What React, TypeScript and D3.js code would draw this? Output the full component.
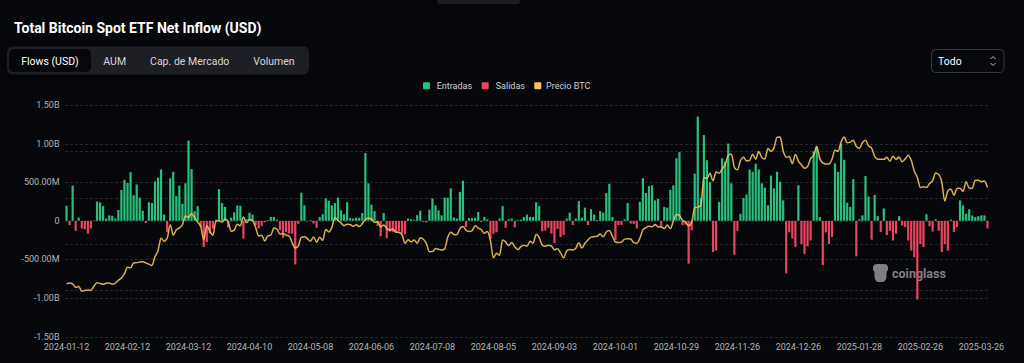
import React, { useEffect, useRef } from 'react';
import * as d3 from 'd3';

// Trading days covered by the chart (US market calendar)
const startDate = '2024-01-12';
const endDate = '2025-03-28';
const marketHolidays = [
  '2024-01-15', '2024-02-19', '2024-03-29', '2024-05-27', '2024-06-19', '2024-07-04',
  '2024-09-02', '2024-11-28', '2024-12-25', '2025-01-01', '2025-01-09', '2025-01-20', '2025-02-17',
];

const tickDates = [
  '2024-01-12', '2024-02-12', '2024-03-12', '2024-04-10', '2024-05-08', '2024-06-06',
  '2024-07-08', '2024-08-05', '2024-09-03', '2024-10-01', '2024-10-29', '2024-11-26',
  '2024-12-26', '2025-01-28', '2025-02-26', '2025-03-26',
];

// Daily net flows, millions USD
const flows2024 = [
  195, -55, 455, -130, 40, -100, -110, -165, -100, 5, 250, 240, 190,
  30, 70, 65, 30, 140, 400, 530, 490, 630, 330, 470, 300, 130, -30, 240, 230, 510, 560, 665, 80,
  -145, 550, 635, 320, 455, 220, 485, 1040, 670, 125, 190, -80, -340, -275, -165, -100, 15, 410, 230, 180,
  -85, 40, 110, 200, 195, -230, 20, 105, 80, -55, -100, -70, -20, 10, 50, 50, 15, -120, -220, -145, -165, -165,
  -565, -40, 365, 200, -10, 10, -35, -90, 50, 85, 290, 260, 200, 230, 300, 135, 85, 240, 35, 30, 40, 40,
  100, 880, 485, 210, 125, -65, -200, 100, -226, -140, -145, -152, -140, -165, -175, 31, 21, 11, 73,
  129, -13, -20, 143, 290, 200, 135, 70, 300, 300, 420, 45, 30, 375, 520, -80, 35, 35, 40, 115, -18, 50,
  20, -237, -168, -148, 30, 190, -90, 20, 30, -85, 10, 15, 50, 80, 50, 50, 240, 190, -135, -125, -90, -165,
  -290, -105, -210, -185, 28, 105, -55, 30, 255, 40, 170, -55, 150, 80, 10, 125, 105, 360, 480, 50,
  -250, -55, -55, 20, 230, -35, -40, -100, 245, 550, 360, 450, 460, 265, 285, -80, 180, 170, 400, 460, 810, 890, -55,
  -50, -555, -125, 610, 1350, 294, 1110, 785, 505, -405, -385, 245, 810, 765, 1000, 485, -440, -130, 90, 295,
  340, 665, 635, 740, 665, 485, 430, 200, 585, 420, 635, 505, 265, -680, -150, -230, -340, 460, -300, -430, -330,
];
const flows2025 = [
  -255, 900, 960, 50, -575, -150, -300, -210, 745, 635, 1000, 790, 235, 180, 540, -460, 20, 70, 580, 315,
  -245, 335, 60, -145, 160, -185, -130, -255, -165, 60, -60, -80, -255, -385, -470, -1020, -300, -340, 85,
  -70, -140, 20, -130, -405, -300, -385, 15, -145, -80, 265, 200, 90, 150, 70, 50, 60, 70, 70, -100,
];

// BTC daily close, USD
const price2024 = [
  42850, 43150, 42740, 41260, 41620, 39570, 39900, 40080, 39930, 41820, 43300, 42950, 42580,
  43080, 43190, 42650, 43090, 44340, 45300, 47150, 49960, 49700, 51810, 51940, 52160, 52270, 51840, 51300, 50730, 54520, 57090, 62500, 61200,
  62440, 68330, 63800, 66100, 66930, 68300, 72120, 71480, 73080, 71400, 69400, 67600, 61900, 67910, 65490, 63780, 69960, 69990, 69460, 70780,
  69650, 65450, 65970, 68500, 67830, 71630, 69140, 70590, 70060, 67190, 63420, 63810, 61280, 63510, 63840, 66840, 66410, 64280, 64500, 63770, 63420, 60610,
  58250, 59120, 62890, 63160, 62330, 61190, 63050, 60790, 62940, 61580, 66270, 65230, 67050, 71450, 70140, 69120, 67930, 68540, 68360, 67630, 68350, 67490,
  68800, 70570, 71080, 70760, 69340, 69650, 67310, 68240, 66760, 66010, 66490, 65140, 64960, 64100, 60280, 61810, 60870, 61670, 60320,
  62670, 62030, 60200, 56660, 56700, 58050, 57720, 57340, 57900, 62850, 65100, 64120, 63970, 66710, 67570, 65930, 65370, 65780, 67910, 66810, 66190, 64620,
  65350, 61420, 54020, 56030, 55130, 61710, 60880, 59350, 60610, 58740, 57560, 58870, 59490, 59010, 61160, 60380, 64090, 62880, 59500, 59030, 59390, 59120,
  57480, 57970, 56160, 53950, 57020, 57650, 57340, 58130, 60570, 58210, 60310, 61760, 62950, 63200, 63330, 64300, 63140, 65180, 65790, 63330,
  60840, 60630, 60750, 62090, 62230, 62130, 60580, 60270, 62450, 66050, 67040, 67610, 67400, 68420, 67370, 67360, 66680, 68160, 66640, 69910, 72720, 72340, 70210,
  69480, 67810, 69360, 75640, 75900, 76540, 88700, 88260, 90480, 87250, 91070, 90540, 92300, 94290, 98320, 98890, 93100, 91990, 95960, 97460,
  95860, 96000, 98770, 96590, 99920, 97320, 96670, 101170, 100040, 101460, 106060, 106140, 100200, 97460, 97760, 94690, 98680, 95800, 94160, 92640, 93430,
];
const price2025 = [
  96890, 98110, 102080, 96950, 95040, 94550, 94520, 96530, 100500, 99990, 104080, 106150, 103650, 103960, 104820, 102080, 101330, 103730, 104740, 102400,
  101400, 97870, 96620, 96550, 96530, 97400, 95750, 97870, 96620, 97510, 95540, 96630, 98330, 96130, 91420, 88740, 84350, 84700, 84370,
  86070, 87220, 90620, 89960, 86740, 78530, 82860, 83720, 81070, 83970, 84090, 82720, 86850, 84170, 84040, 87500, 87470, 86900, 87180, 84350,
];

const flowTicks = [1500, 1000, 500, 0, -500, -1000, -1500];
const priceTicks = [20000, 40000, 60000, 80000, 100000, 120000];
const tabs = ['Flows (USD)', 'AUM', 'Cap. de Mercado', 'Volumen'];
const legendLabels = ['Entradas', 'Salidas', 'Precio BTC'];

const BG = '#06070a';
const GREEN = '#29c07d';
const RED = '#ea4560';
const GOLD = '#f2c25c';
const FONT = "Roboto, 'Noto Sans', sans-serif";

const fmtFlow = (v: number) => {
  if (v === 0) return '0';
  if (Math.abs(v) >= 1000) return `${(v / 1000).toFixed(2)}B`;
  return `${v.toFixed(2)}M`;
};

const App: React.FC = () => {
  const svgRef = useRef<SVGSVGElement>(null);

  useEffect(() => {
    if (!svgRef.current) return;
    document.body.style.margin = '0';
    document.body.style.background = BG;

    const fmt = d3.utcFormat('%Y-%m-%d');
    const parse = d3.utcParse('%Y-%m-%d');
    const dates = d3.utcDay
      .range(parse(startDate)!, d3.utcDay.offset(parse(endDate)!, 1))
      .filter(d => d.getUTCDay() !== 0 && d.getUTCDay() !== 6)
      .map(fmt)
      .filter(d => !marketHolidays.includes(d));

    const flows = flows2024.concat(flows2025);
    const prices = price2024.concat(price2025);
    const data = dates.map((date, i) => ({ date, flow: flows[i] ?? 0, price: prices[i] ?? NaN }));

    const svg = d3.select(svgRef.current);
    svg.selectAll('*').remove();

    svg.append('rect').attr('width', 1024).attr('height', 363).attr('fill', BG);

    // top handle
    svg.append('rect').attr('x', 437).attr('y', -4).attr('width', 83).attr('height', 8)
      .attr('rx', 3).attr('fill', '#1c1d21');

    // title
    svg.append('text')
      .attr('x', 14).attr('y', 33)
      .attr('fill', '#ffffff')
      .style('font-family', FONT).style('font-size', '14px').style('font-weight', 700)
      .text('Total Bitcoin Spot ETF Net Inflow (USD)');

    // tabs
    const tabCenters = [50, 114.7, 189.7, 274];
    svg.append('rect').attr('x', 7).attr('y', 46.5).attr('width', 302).attr('height', 28)
      .attr('rx', 6).attr('fill', '#1e1f24');
    svg.append('rect').attr('x', 9).attr('y', 49).attr('width', 82).attr('height', 23)
      .attr('rx', 5).attr('fill', '#07080b');
    svg.append('g').selectAll('text').data(tabs).join('text')
      .attr('x', (_, i) => tabCenters[i]).attr('y', 61)
      .attr('text-anchor', 'middle').attr('dominant-baseline', 'central')
      .attr('fill', (_, i) => (i === 0 ? '#ffffff' : '#d6d6d8'))
      .style('font-family', FONT).style('font-size', '10.5px')
      .text(d => d);

    // range select
    svg.append('rect').attr('x', 931.5).attr('y', 49.5).attr('width', 72.5).attr('height', 23)
      .attr('rx', 4).attr('fill', '#07080b').attr('stroke', '#34363c');
    svg.append('text').attr('x', 938).attr('y', 61).attr('dominant-baseline', 'central')
      .attr('fill', '#ffffff').style('font-family', FONT).style('font-size', '10.5px').text('Todo');
    svg.append('path').attr('d', 'M990.5,59 l2.5,-2.5 l2.5,2.5 M990.5,63 l2.5,2.5 l2.5,-2.5')
      .attr('fill', 'none').attr('stroke', '#b8b8bc').attr('stroke-width', 1);

    // legend
    const legendX = [423, 481.7, 534.3];
    const legendColors = [GREEN, RED, GOLD];
    const legend = svg.append('g').selectAll('g').data(legendLabels).join('g')
      .attr('transform', (_, i) => `translate(${legendX[i]},82.3)`);
    legend.append('rect').attr('width', 7).attr('height', 7).attr('rx', 1)
      .attr('fill', (_, i) => legendColors[i]);
    legend.append('text').attr('x', (_, i) => (i === 0 ? 13.7 : i === 1 ? 14 : 11.7)).attr('y', 3.6)
      .attr('dominant-baseline', 'central').attr('fill', '#d0d0d4')
      .style('font-family', FONT).style('font-size', '9px').text(d => d);

    // scales
    const x = d3.scaleBand<string>().domain(dates).range([65, 989]).paddingInner(0.28).paddingOuter(0.14);
    const y = d3.scaleLinear().domain([-1500, 1500]).range([336.6, 105]);
    const yPrice = d3.scaleLinear().domain([20000, 120000]).range([336.6, 105]);
    const [x0, x1] = x.range();

    // grid
    const grid = svg.append('g').attr('stroke', '#25272c').attr('stroke-dasharray', '3,2');
    grid.selectAll('line.f').data(flowTicks).join('line').attr('class', 'f')
      .attr('x1', x0).attr('x2', x1)
      .attr('y1', d => Math.round(y(d)) + 0.5).attr('y2', d => Math.round(y(d)) + 0.5);
    grid.selectAll('line.p').data(priceTicks).join('line').attr('class', 'p')
      .attr('x1', x0).attr('x2', x1)
      .attr('y1', d => Math.round(yPrice(d)) + 0.5).attr('y2', d => Math.round(yPrice(d)) + 0.5);

    // y labels
    svg.append('g').selectAll('text').data(flowTicks).join('text')
      .attr('x', 59.5).attr('y', d => y(d))
      .attr('text-anchor', 'end').attr('dominant-baseline', 'central')
      .attr('fill', '#b4b4b8').style('font-family', FONT).style('font-size', '9px')
      .text(d => fmtFlow(d));

    // x labels
    svg.append('g').selectAll('text').data(tickDates).join('text')
      .attr('x', d => (x(d) ?? 0) + x.bandwidth() / 2).attr('y', 347.3)
      .attr('text-anchor', 'middle').attr('dominant-baseline', 'central')
      .attr('fill', '#b4b4b8').style('font-family', FONT).style('font-size', '9px')
      .text(d => d);

    // watermark
    const wm = svg.append('g').attr('opacity', 0.75);
    wm.append('path')
      .attr('d', 'M873,268 q0,-4 4,-4 h7 q4,0 4,4 v2 q-1.5,1 -1.5,3 v4 q0,3 -3,5 h-6 q-3,-2 -3,-5 v-4 q0,-2 -1.5,-3 z')
      .attr('fill', '#a8a8ac');
    wm.append('text').attr('x', 892).attr('y', 273).attr('dominant-baseline', 'central')
      .attr('fill', '#a8a8ac').style('font-family', FONT).style('font-size', '12.5px').style('font-weight', 700)
      .text('coinglass');

    // bars
    svg.append('g').selectAll('rect').data(data).join('rect')
      .attr('x', d => x(d.date) ?? 0)
      .attr('width', x.bandwidth())
      .attr('y', d => Math.min(y(d.flow), y(0)))
      .attr('height', d => Math.abs(y(d.flow) - y(0)))
      .attr('fill', d => (d.flow >= 0 ? GREEN : RED));

    // price line
    const line = d3.line<typeof data[number]>()
      .defined(d => !isNaN(d.price))
      .x(d => (x(d.date) ?? 0) + x.bandwidth() / 2)
      .y(d => yPrice(d.price))
      .curve(d3.curveMonotoneX);

    svg.append('path')
      .datum(data)
      .attr('d', line)
      .attr('fill', 'none')
      .attr('stroke', GOLD)
      .attr('stroke-width', 1.5)
      .attr('stroke-opacity', 0.9);
  }, []);

  return <svg ref={svgRef} width={1024} height={363} style={{ display: 'block' }} />;
};

export default App;
